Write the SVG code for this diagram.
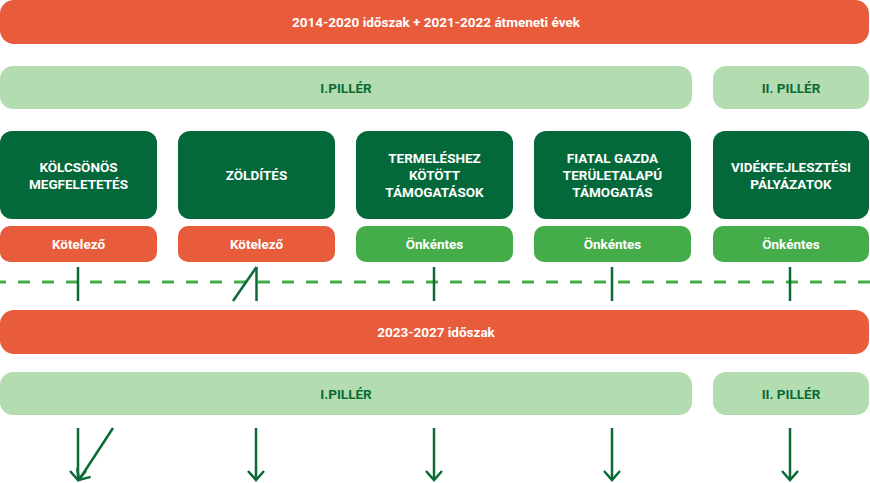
<svg xmlns="http://www.w3.org/2000/svg" width="870" height="483" viewBox="0 0 870 483">
<style>
text{font-family:Roboto,"Open Sans",sans-serif;font-weight:700;font-size:13.5px;text-anchor:middle}
.or{fill:#E95C3B}
.lg{fill:#B3DDB0}
.dg{fill:#03683A}
.mg{fill:#44AD4A}
.w{fill:#fff}
.g{fill:#0B6B36}
.ln{stroke:#0B6B36;stroke-width:2.5;fill:none}
.ar{stroke:#0B6B36;stroke-width:2.5;fill:none;marker-end:url(#ah)}
.dash{stroke:#44AD4A;stroke-width:3;stroke-dasharray:12 12;stroke-dashoffset:6;fill:none}
</style>
<defs>
<marker id="ah" markerUnits="userSpaceOnUse" markerWidth="24" markerHeight="24" viewBox="-12 -12 24 24" refX="0" refY="0" orient="auto" overflow="visible">
<path d="M-9,-8 L0,0 L-9,8" stroke="#0B6B36" stroke-width="2.5" fill="none"/>
</marker>
</defs>
<g id="period1"><rect class="or" x="0" y="0" width="869" height="44" rx="14"/><text class="w" x="436" y="27">2014-2020 időszak + 2021-2022 átmeneti évek</text></g>
<g id="p1a"><rect class="lg" x="0" y="66" width="692" height="43" rx="13"/><text class="g" x="346" y="93">I.PILLÉR</text></g>
<g id="p2a"><rect class="lg" x="713" y="66" width="156" height="43" rx="13"/><text class="g" x="791" y="93">II. PILLÉR</text></g>
<g id="b1"><rect class="dg" x="0" y="131" width="157" height="88" rx="12"/><text class="w" x="78.5" y="172">KÖLCSÖNÖS</text><text class="w" x="78.5" y="189">MEGFELETETÉS</text></g>
<g id="b2"><rect class="dg" x="178" y="131" width="157" height="88" rx="12"/><text class="w" x="256.5" y="180">ZÖLDÍTÉS</text></g>
<g id="b3"><rect class="dg" x="356" y="131" width="157" height="88" rx="12"/><text class="w" x="434.5" y="163">TERMELÉSHEZ</text><text class="w" x="434.5" y="180">KÖTÖTT</text><text class="w" x="434.5" y="197">TÁMOGATÁSOK</text></g>
<g id="b4"><rect class="dg" x="534" y="131" width="157" height="88" rx="12"/><text class="w" x="612.5" y="163">FIATAL GAZDA</text><text class="w" x="612.5" y="180">TERÜLETALAPÚ</text><text class="w" x="612.5" y="197">TÁMOGATÁS</text></g>
<g id="b5"><rect class="dg" x="713" y="131" width="156" height="88" rx="12"/><text class="w" x="791" y="172">VIDÉKFEJLESZTÉSI</text><text class="w" x="791" y="189">PÁLYÁZATOK</text></g>
<g id="s1"><rect class="or" x="0" y="226" width="157" height="36" rx="10"/><text class="w" x="78.5" y="249">Kötelező</text></g>
<g id="s2"><rect class="or" x="178" y="226" width="157" height="36" rx="10"/><text class="w" x="256.5" y="249">Kötelező</text></g>
<g id="s3"><rect class="mg" x="356" y="226" width="157" height="36" rx="10"/><text class="w" x="434.5" y="249">Önkéntes</text></g>
<g id="s4"><rect class="mg" x="534" y="226" width="157" height="36" rx="10"/><text class="w" x="612.5" y="249">Önkéntes</text></g>
<g id="s5"><rect class="mg" x="713" y="226" width="156" height="36" rx="10"/><text class="w" x="791" y="249">Önkéntes</text></g>
<g id="period2"><rect class="or" x="0" y="310" width="869" height="44" rx="14"/><text class="w" x="436" y="337">2023-2027 időszak</text></g>
<g id="p1b"><rect class="lg" x="0" y="372" width="692" height="43" rx="13"/><text class="g" x="346" y="399">I.PILLÉR</text></g>
<g id="p2b"><rect class="lg" x="713" y="372" width="156" height="43" rx="13"/><text class="g" x="791" y="399">II. PILLÉR</text></g>
<g id="connectors">
<line class="dash" x1="0" y1="282" x2="870" y2="282"/>
<line class="ln" x1="78" y1="267" x2="78" y2="301"/>
<line class="ln" x1="256.5" y1="267" x2="256.5" y2="301"/>
<line class="ln" x1="256.5" y1="267" x2="233" y2="301"/>
<line class="ln" x1="434" y1="267" x2="434" y2="301"/>
<line class="ln" x1="612" y1="267" x2="612" y2="301"/>
<line class="ln" x1="790" y1="267" x2="790" y2="301"/>
<line class="ar" x1="78" y1="428" x2="78" y2="480"/>
<line class="ar" x1="113" y1="428" x2="79" y2="480"/>
<line class="ar" x1="256" y1="428" x2="256" y2="480"/>
<line class="ar" x1="434" y1="428" x2="434" y2="480"/>
<line class="ar" x1="612" y1="428" x2="612" y2="480"/>
<line class="ar" x1="790" y1="428" x2="790" y2="480"/>
</g>
</svg>
